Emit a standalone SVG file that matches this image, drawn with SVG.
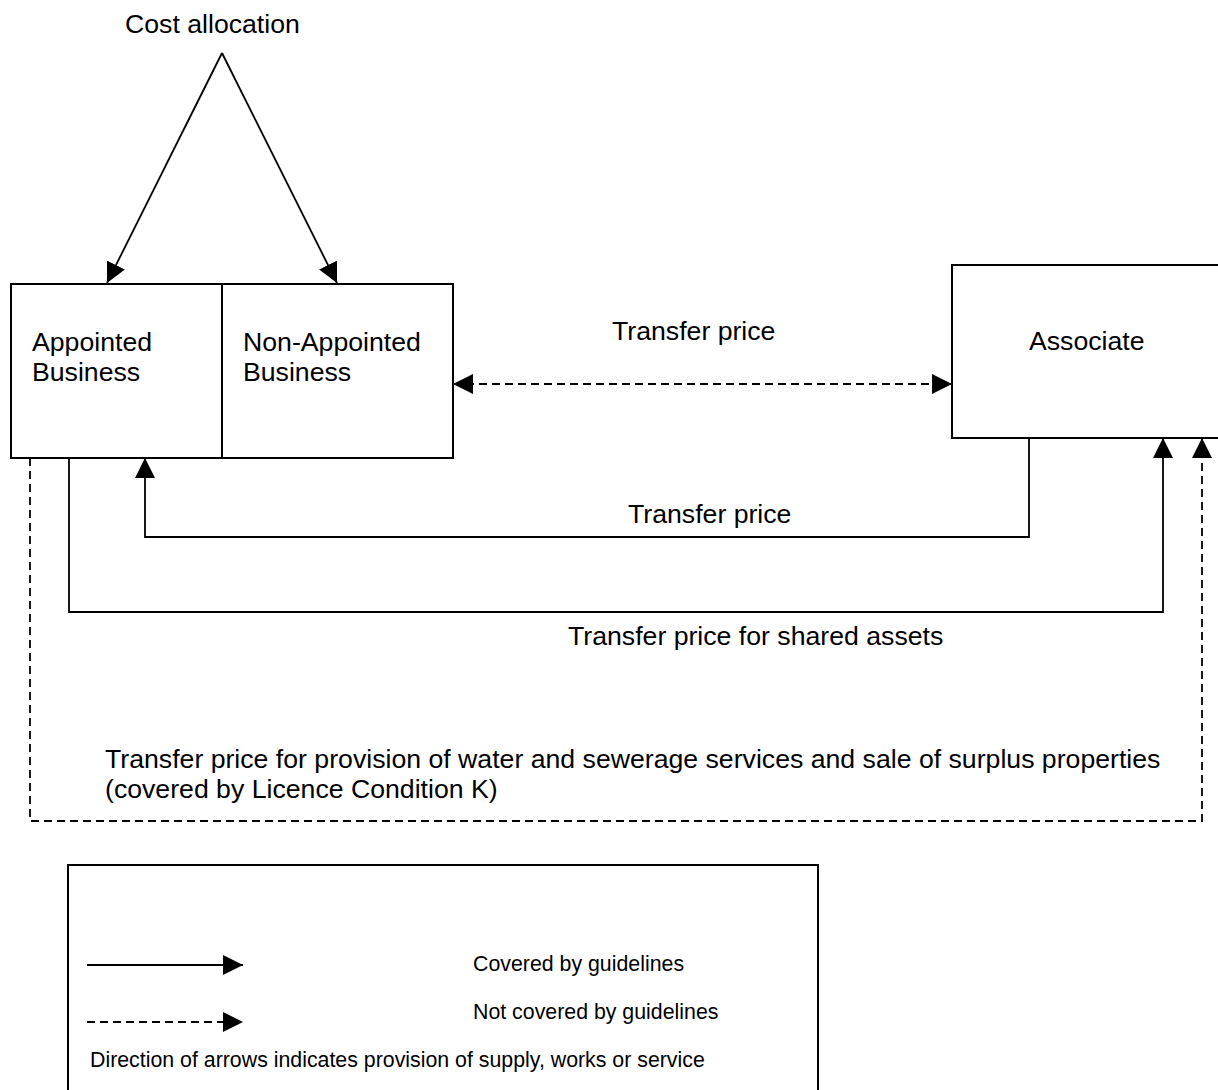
<svg xmlns="http://www.w3.org/2000/svg" width="1218" height="1090" viewBox="0 0 1218 1090">
  <defs>
    <style>
      .box { fill: #ffffff; stroke: #000000; stroke-width: 2; }
      .edge { fill: none; stroke: #000000; stroke-width: 1.8; }
      .dash { stroke-dasharray: 8 5; }
      .lbl { font-family: "Liberation Sans", Arial, sans-serif; font-size: 26.67px; fill: #000000; }
      .key { font-family: "Liberation Sans", Arial, sans-serif; font-size: 21.33px; fill: #000000; }
    </style>
    <marker id="head" markerUnits="userSpaceOnUse" markerWidth="20" markerHeight="20" viewBox="0 0 20 20" refX="20" refY="10" orient="auto-start-reverse">
      <path d="M0,0 L20,10 L0,20 z" fill="#000000"/>
    </marker>
  </defs>

  <rect width="1218" height="1090" fill="#ffffff"/>

  <!-- nodes -->
  <g id="cost-allocation">
    <text class="lbl" x="125" y="33">Cost allocation</text>
  </g>

  <g id="appointed-business">
    <rect class="box" x="11" y="284" width="211" height="174"/>
    <text class="lbl" x="32" y="351">Appointed</text>
    <text class="lbl" x="32" y="381">Business</text>
  </g>

  <g id="non-appointed-business">
    <rect class="box" x="222" y="284" width="231" height="174"/>
    <text class="lbl" x="243" y="351">Non-Appointed</text>
    <text class="lbl" x="243" y="381">Business</text>
  </g>

  <g id="associate">
    <path class="box" d="M1218,265 H952 V438 H1218"/>
    <text class="lbl" x="1029" y="350">Associate</text>
  </g>

  <!-- connectors -->
  <g id="connectors">
    <path class="edge" d="M222,53 L107,283" marker-end="url(#head)"/>
    <path class="edge" d="M222,53 L337,283" marker-end="url(#head)"/>
    <path class="edge dash" d="M453,384 H952" marker-start="url(#head)" marker-end="url(#head)"/>
    <path class="edge" d="M1029,438 V537 H145 V458" marker-end="url(#head)"/>
    <path class="edge" d="M69,458 V612 H1163 V438" marker-end="url(#head)"/>
    <path class="edge dash" d="M30,458 V821 H1202 V438" marker-end="url(#head)"/>
  </g>

  <!-- connector labels -->
  <g id="connector-labels">
    <text class="lbl" x="612" y="340">Transfer price</text>
    <text class="lbl" x="628" y="523">Transfer price</text>
    <text class="lbl" x="568" y="645">Transfer price for shared assets</text>
    <text class="lbl" x="105" y="768">Transfer price for provision of water and sewerage services and sale of surplus properties</text>
    <text class="lbl" x="105" y="798">(covered by Licence Condition K)</text>
  </g>

  <!-- key -->
  <g id="legend">
    <path class="box" d="M68,1092 V865 H818 V1092"/>
    <path class="edge" d="M87,965 H243" marker-end="url(#head)"/>
    <path class="edge dash" d="M87,1022 H243" marker-end="url(#head)"/>
    <text class="key" x="473" y="971">Covered by guidelines</text>
    <text class="key" x="473" y="1019">Not covered by guidelines</text>
    <text class="key" x="90" y="1067">Direction of arrows indicates provision of supply, works or service</text>
  </g>
</svg>
